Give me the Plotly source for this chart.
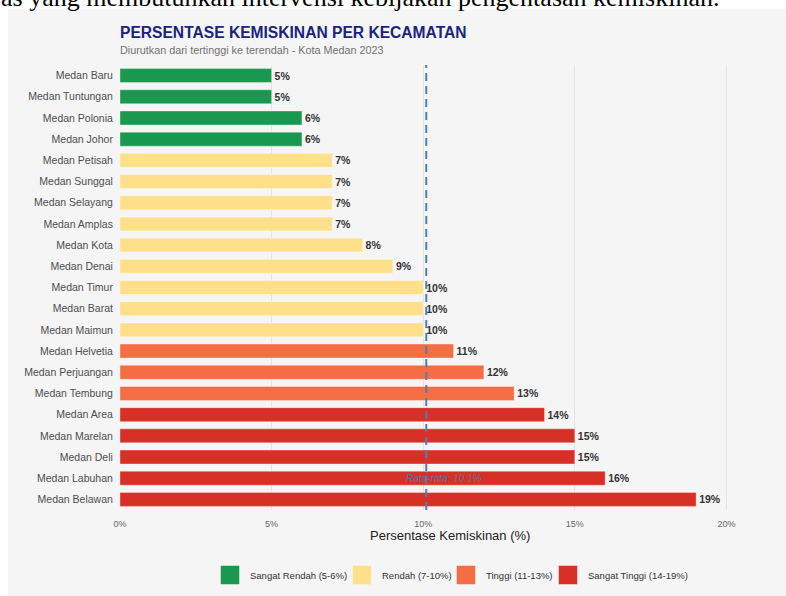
import plotly.graph_objects as go

# ---- data ----
kecamatan = ["Medan Baru", "Medan Tuntungan", "Medan Polonia", "Medan Johor",
             "Medan Petisah", "Medan Sunggal", "Medan Selayang", "Medan Amplas",
             "Medan Kota", "Medan Denai", "Medan Timur", "Medan Barat", "Medan Maimun",
             "Medan Helvetia", "Medan Perjuangan", "Medan Tembung", "Medan Area",
             "Medan Marelan", "Medan Deli", "Medan Labuhan", "Medan Belawan"]
persen = [5, 5, 6, 6, 7, 7, 7, 7, 8, 9, 10, 10, 10, 11, 12, 13, 14, 15, 15, 16, 19]
kategori = ["Sangat Rendah (5-6%)"] * 4 + ["Rendah (7-10%)"] * 9 + \
           ["Tinggi (11-13%)"] * 3 + ["Sangat Tinggi (14-19%)"] * 5
kategori_urut = ["Sangat Rendah (5-6%)", "Rendah (7-10%)", "Tinggi (11-13%)", "Sangat Tinggi (14-19%)"]
warna = {"Sangat Rendah (5-6%)": "#1a9850", "Rendah (7-10%)": "#fee08b",
         "Tinggi (11-13%)": "#f46d43", "Sangat Tinggi (14-19%)": "#d73027"}
x_ticks = [0, 5, 10, 15, 20]
x_ticktext = ["0%", "5%", "10%", "15%", "20%"]
rata_rata = round(sum(persen) / len(persen), 1)

FONT = "Liberation Sans, Arial, sans-serif"
W, H = 786, 596
L, R, T, B = 120, 8, 65, 85
PH = H - T - B
PW = W - L - R
def py(p):  # pixel y -> paper y
    return (H - B - p) / PH
def px(p):
    return (p - L) / PW

legend_left_px = [222, 354, 458, 560]
legend_ids = ["legend", "legend2", "legend3", "legend4"]

fig = go.Figure()
for k in kategori_urut:
    xs = [v for v, c in zip(persen, kategori) if c == k]
    ys = [n for n, c in zip(kecamatan, kategori) if c == k]
    fig.add_trace(go.Bar(
        x=xs, y=ys, orientation="h", name=k, showlegend=False,
        marker=dict(color=warna[k], line=dict(color="rgba(255,255,255,0.6)", width=0.6)),
        texttemplate="%{x:.0f}%", textposition="outside", cliponaxis=False,
        textfont=dict(family=FONT, size=10.5, color="#333333", weight="bold"),
        hoverinfo="skip"))
for k, lid in zip(kategori_urut, legend_ids):
    fig.add_trace(go.Scatter(
        x=[None], y=[None], mode="markers", name=k, legend=lid,
        marker=dict(symbol="square", size=18, color=warna[k],
                    line=dict(width=2.5, color=warna[k]))))

legend_style = dict(orientation="h", xanchor="left", y=py(575), yanchor="middle",
                    font=dict(family=FONT, size=9.5, color="#333333"),
                    bgcolor="rgba(0,0,0,0)", itemclick=False, itemdoubleclick=False)

fig.update_layout(
    width=W, height=H,
    margin=dict(l=L, r=R, t=T, b=B),
    paper_bgcolor="white", plot_bgcolor="rgba(0,0,0,0)",
    barmode="overlay", bargap=0.34,
    font=dict(family=FONT),
    title=dict(text="PERSENTASE KEMISKINAN PER KECAMATAN", x=L / W, xanchor="left",
               xref="container", yref="container", y=1 - 33 / H, yanchor="middle",
               font=dict(family=FONT, size=15.6, color="#1a237e", weight="bold")),
    xaxis=dict(range=[0, 21.7], tickvals=x_ticks, ticktext=x_ticktext,
               showgrid=True, gridcolor="#e4e4e4", gridwidth=1, zeroline=False,
               showline=False, ticks="outside", ticklen=5, tickcolor="rgba(0,0,0,0)",
               tickfont=dict(family=FONT, size=9, color="#666666"), fixedrange=True),
    yaxis=dict(categoryorder="array", categoryarray=kecamatan, range=[20.5, -0.5],
               showgrid=False, zeroline=False, showline=False,
               ticks="outside", ticklen=4, tickcolor="rgba(0,0,0,0)",
               tickfont=dict(family=FONT, size=10.5, color="#4d4d4d"), fixedrange=True),
    showlegend=True,
)
for lid, lx in zip(legend_ids, legend_left_px):
    fig.update_layout({lid: dict(legend_style, x=px(lx - 12))})

# panel background
fig.add_shape(type="rect", xref="paper", yref="paper",
              x0=px(8), x1=px(W + 5), y0=py(H + 5), y1=py(9),
              fillcolor="#f5f5f5", line=dict(width=0), layer="below")
# average line
fig.add_shape(type="line", xref="x", yref="paper", x0=rata_rata, x1=rata_rata, y0=0, y1=1,
              line=dict(color="#4a80b8", width=2, dash="8px,5px"), layer="above")

fig.add_annotation(text=f"Rata-rata: {rata_rata}%", x=rata_rata, y="Medan Labuhan",
                   xref="x", yref="y", xshift=18, showarrow=False,
                   font=dict(family=FONT, size=10, color="rgba(74,128,184,0.8)", style="italic"))
fig.add_annotation(text="Diurutkan dari tertinggi ke terendah - Kota Medan 2023",
                   xref="paper", yref="paper", x=px(118), y=py(50), xanchor="left", yanchor="middle",
                   showarrow=False, font=dict(family=FONT, size=10.8, color="#707070"))
fig.add_annotation(text="Persentase Kemiskinan (%)", xref="paper", yref="paper",
                   x=px(450), y=py(537), xanchor="center", yanchor="middle", showarrow=False,
                   font=dict(family=FONT, size=13, color="#222222"))
# cut-off text from the page above the chart
fig.add_annotation(text="as yang membutuhkan intervensi kebijakan pengentasan kemiskinan.",
                   xref="paper", yref="paper", x=px(-1), y=py(-19), xanchor="left", yanchor="top",
                   showarrow=False, font=dict(family="Liberation Serif, Times New Roman, serif",
                                              size=26, color="#000000"))

fig.write_html("out.html", config={"displayModeBar": False},
               post_script="document.body.style.margin='0';document.body.style.overflow='hidden';")
